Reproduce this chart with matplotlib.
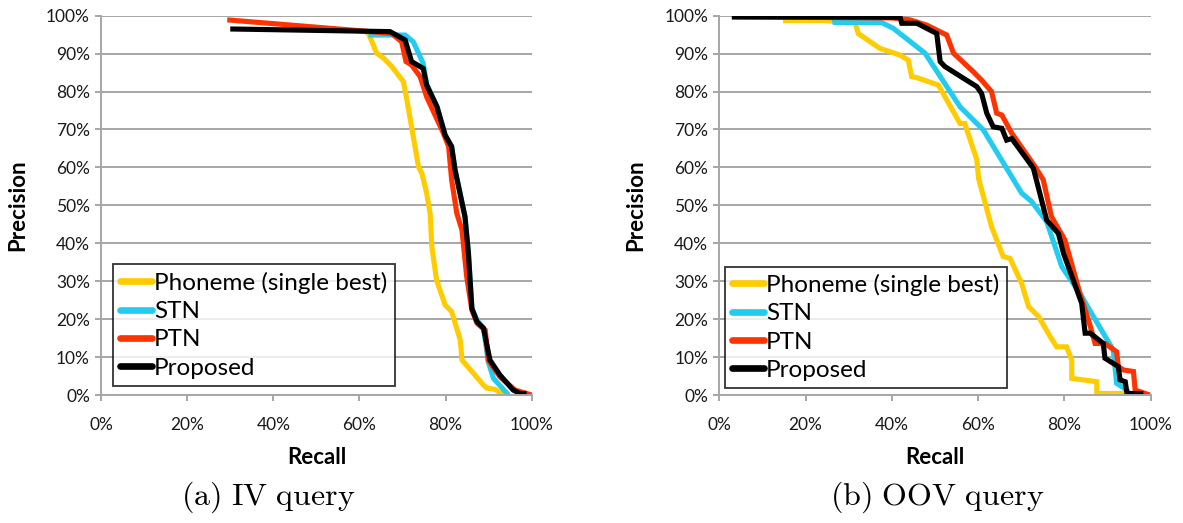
import matplotlib
matplotlib.use("Agg")
import matplotlib.pyplot as plt
from matplotlib.ticker import FuncFormatter

plt.rcParams['font.family'] = ['Lato', 'DejaVu Sans']
plt.rcParams['mathtext.fontset'] = 'cm'

# ---------------- data (recall %, precision %) ----------------
# (a) IV query
iv_phoneme_x = [61.0, 62.1, 64.0, 65.6, 67.5, 70.2, 71.0, 72.1, 73.7, 74.5, 75.6, 76.4, 76.8, 77.9,
                79.9, 81.4, 83.4, 83.8, 86.5, 88.8, 89.6, 91.5, 93.4]
iv_phoneme_y = [96.0, 95.3, 90.1, 88.8, 86.6, 82.6, 77.8, 70.7, 60.2, 58.4, 53.2, 47.9, 39.1, 30.3,
                23.7, 22.0, 14.5, 9.2, 5.7, 2.6, 1.8, 1.5, 0.0]
iv_stn_x = [62.1, 70.6, 72.5, 74.8, 75.6, 78.0, 79.9, 81.4, 82.2, 84.5, 85.3, 86.1, 87.3, 88.8,
            89.9, 91.1, 94.6]
iv_stn_y = [94.9, 94.9, 93.1, 87.4, 82.0, 76.0, 68.5, 65.5, 59.3, 47.0, 37.3, 22.8, 19.7, 17.6,
            8.8, 4.4, 0.0]
iv_ptn_x = [29.3, 62.5, 67.5, 69.8, 70.8, 72.1, 74.1, 75.6, 79.5, 80.7, 81.4, 82.6, 83.8, 84.9,
            86.1, 87.3, 89.2, 89.9, 92.6, 96.1, 98.8, 100.0]
iv_ptn_y = [98.9, 95.8, 95.3, 93.1, 87.9, 87.0, 83.9, 78.6, 69.0, 65.5, 56.7, 47.9, 43.5, 31.2,
            22.4, 18.9, 17.1, 9.2, 4.8, 1.3, 0.4, 0.0]
iv_prop_x = [30.0, 67.1, 70.6, 72.1, 74.8, 75.6, 78.0, 79.9, 81.4, 82.2, 84.5, 85.3, 86.1, 87.3,
             88.8, 90.3, 92.6, 95.7, 97.3, 98.8]
iv_prop_y = [96.5, 95.8, 93.6, 87.9, 86.1, 81.7, 76.0, 68.5, 65.5, 59.3, 47.0, 37.3, 22.8, 19.3,
             17.6, 9.2, 5.3, 1.3, 0.4, 0.4]

# (b) OOV query
oov_phoneme_x = [14.8, 24.1, 31.5, 32.2, 37.2, 41.9, 43.8, 44.6, 45.7, 48.5, 50.8, 55.8, 56.9,
                 59.7, 60.1, 63.1, 65.8, 67.4, 70.1, 71.7, 74.0, 76.7, 78.2, 80.5, 81.7, 81.7,
                 87.5, 87.5, 94.0]
oov_phoneme_y = [98.7, 98.7, 98.2, 95.3, 91.4, 89.6, 88.3, 83.9, 83.7, 82.6, 81.7, 71.6, 71.6,
                 62.0, 57.1, 44.4, 36.5, 36.0, 29.4, 23.3, 20.7, 15.4, 12.7, 12.7, 9.2, 4.4,
                 3.5, 0.4, 0.4]
oov_stn_x = [3.0, 26.5, 26.8, 37.6, 40.3, 47.7, 55.8, 61.2, 70.1, 72.4, 75.9, 79.4, 83.6, 86.3,
             91.3, 92.1, 94.5, 95.2]
oov_stn_y = [99.7, 99.6, 98.2, 98.2, 96.7, 90.1, 76.0, 69.9, 53.2, 51.0, 45.7, 33.8, 26.8, 21.5,
             11.9, 3.1, 1.3, 0.0]
oov_ptn_x = [3.0, 40.0, 44.2, 48.1, 52.7, 54.3, 58.9, 60.8, 63.1, 64.3, 65.5, 67.8, 73.2, 75.1,
             77.0, 80.1, 83.6, 85.9, 87.1, 89.4, 92.1, 92.5, 93.7, 96.0, 96.4, 99.8]
oov_ptn_y = [99.7, 99.4, 98.9, 97.5, 94.9, 90.1, 85.2, 83.0, 80.0, 74.3, 73.8, 69.0, 60.2, 56.7,
             47.0, 40.9, 26.8, 18.5, 13.6, 13.6, 11.4, 7.5, 6.6, 6.2, 1.3, 0.0]
oov_prop_x = [2.9, 41.9, 42.3, 45.8, 50.4, 51.2, 52.3, 57.3, 59.7, 60.8, 61.2, 62.0, 63.5, 65.5,
              66.6, 67.8, 72.8, 75.9, 78.6, 79.8, 84.0, 84.8, 86.0, 89.0, 89.4, 92.5, 92.9,
              94.1, 94.5, 98.3]
oov_prop_y = [99.7, 99.6, 98.0, 98.0, 95.3, 87.9, 86.6, 83.0, 81.3, 79.5, 77.8, 74.3, 70.7, 70.3,
              67.2, 67.6, 59.8, 46.1, 42.6, 37.3, 24.2, 16.3, 16.3, 13.6, 9.7, 7.5, 4.0,
              3.5, 0.4, 0.4]

series_labels = ["Phoneme (single best)", "STN", "PTN", "Proposed"]
series_colors = ["#FFCC00", "#22CCF0", "#FF3300", "#000000"]
x_ticks = [0, 20, 40, 60, 80, 100]
y_ticks = [0, 10, 20, 30, 40, 50, 60, 70, 80, 90, 100]
captions = ["(a) IV query", "(b) OOV query"]

panels = [
    ([(iv_phoneme_x, iv_phoneme_y), (iv_stn_x, iv_stn_y), (iv_ptn_x, iv_ptn_y), (iv_prop_x, iv_prop_y)],
     captions[0], (0.027, 0.024)),
    ([(oov_phoneme_x, oov_phoneme_y), (oov_stn_x, oov_stn_y), (oov_ptn_x, oov_ptn_y), (oov_prop_x, oov_prop_y)],
     captions[1], (0.013, 0.018)),
]

fig = plt.figure(figsize=(11.83, 5.23), dpi=100)
axes_pos = [[0.0854, 0.2447, 0.3641, 0.7253], [0.6080, 0.2447, 0.3647, 0.7253]]
caption_x = [0.2265, 0.792]
grid_color = "#A6A6A6"
pct = FuncFormatter(lambda v, p: f"{int(round(v))}%")

for (series, caption, leg_anchor), pos, cx in zip(panels, axes_pos, caption_x):
    ax = fig.add_axes(pos)
    for (xs, ys), lab, col in zip(series, series_labels, series_colors):
        ax.plot(xs, ys, color=col, lw=3.7, label=lab, solid_joinstyle='miter', solid_capstyle='butt')
    ax.set_xlim(0, 100)
    ax.set_ylim(0, 100)
    ax.set_xticks(x_ticks)
    ax.set_yticks(y_ticks)
    ax.xaxis.set_major_formatter(pct)
    ax.yaxis.set_major_formatter(pct)
    ax.grid(axis='y', color=grid_color, lw=1.4)
    ax.set_axisbelow(True)
    for s in ['top', 'right']:
        ax.spines[s].set_visible(False)
    for s in ['left', 'bottom']:
        ax.spines[s].set_color(grid_color)
        ax.spines[s].set_linewidth(1.4)
    ax.tick_params(axis='both', length=4, width=1.4, color=grid_color, labelsize=12.5,
                   labelcolor='#1a1a1a')
    ax.tick_params(axis='y', pad=4)
    ax.tick_params(axis='x', pad=12)
    ax.set_xlabel("Recall", fontsize=16, fontweight='bold', labelpad=10)
    ax.set_ylabel("Precision", fontsize=16, fontweight='bold', labelpad=13)
    leg = ax.legend(loc='lower left', bbox_to_anchor=leg_anchor, borderaxespad=0,
                    fontsize=17.5, handlelength=1.3, handletextpad=0.1, labelspacing=0.3,
                    borderpad=0.3, frameon=True, fancybox=False, edgecolor='black')
    leg.get_frame().set_linewidth(1.3)
    for h in leg.get_lines():
        h.set_linewidth(4.8)
        h.set_solid_capstyle('round')
    fig.text(cx, 0.05, r"$\mathrm{" + caption.replace(" ", r"\ ") + "}$", ha='center', va='center',
             fontsize=23)

fig.savefig("out.png", dpi=100)
